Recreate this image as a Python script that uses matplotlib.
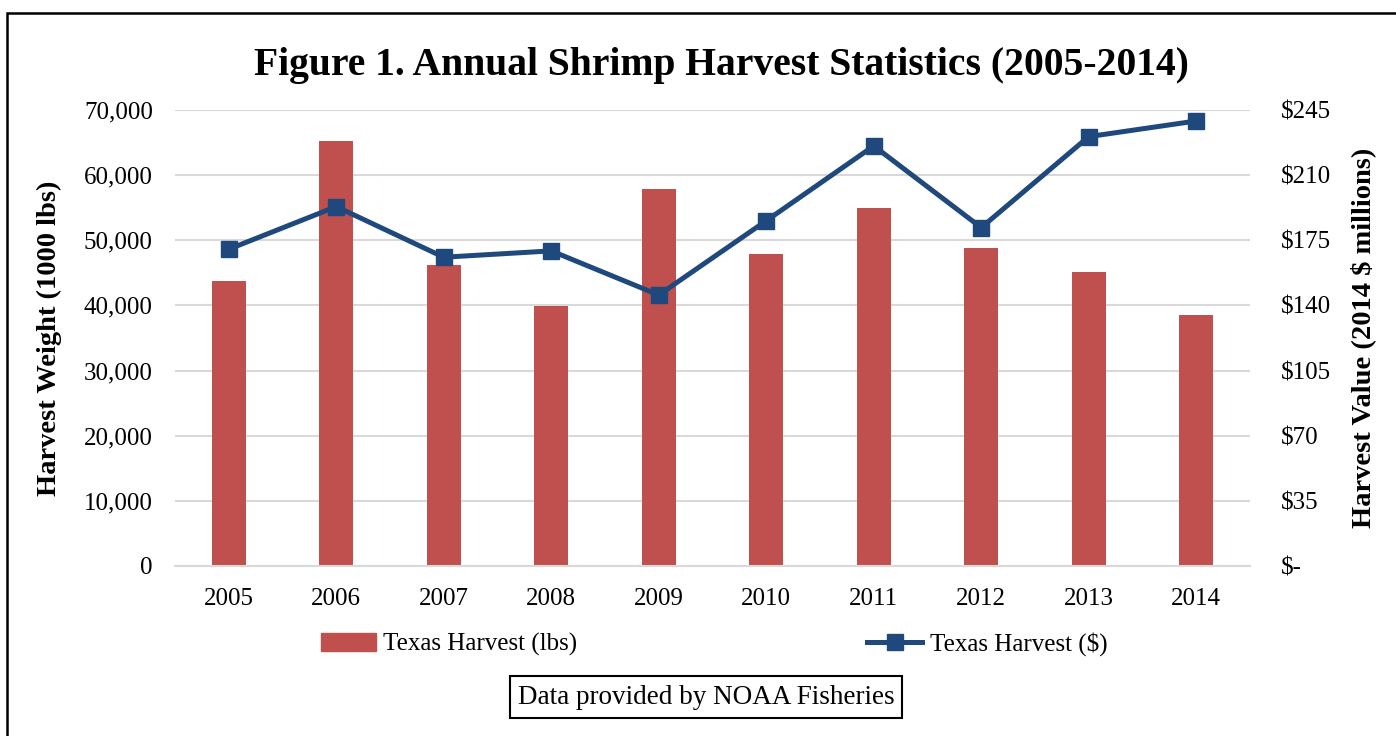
import numpy as np
import matplotlib.pyplot as plt
from matplotlib.patches import Rectangle
from matplotlib.lines import Line2D
from matplotlib.ticker import FuncFormatter

# data
years = ['2005', '2006', '2007', '2008', '2009', '2010', '2011', '2012', '2013', '2014']
harvest_lbs = [43700, 65200, 46150, 39850, 57850, 47900, 54900, 48850, 45150, 38600]  # 1000 lbs
harvest_usd = [170.2, 193.1, 165.9, 169.3, 145.6, 185.5, 225.7, 181.8, 230.7, 239.1]  # 2014 $ millions

red = '#C0504D'
blue = '#1F497D'
grid_gray = '#D9D9D9'

plt.rcParams['font.family'] = ['Liberation Serif', 'DejaVu Serif']

fig = plt.figure(figsize=(13.96, 7.36), dpi=100)
ax = fig.add_axes([175 / 1396, 1 - 566 / 736, 1075 / 1396, 456 / 736])
ax2 = ax.twinx()

x = np.arange(len(years))
ax.bar(x, harvest_lbs, width=0.32, color=red, edgecolor='none', zorder=2,
       label='Texas Harvest (lbs)')
ax2.plot(x, harvest_usd, color=blue, linewidth=3.6, marker='s', markersize=11,
         label='Texas Harvest ($)')

ax.set_xlim(-0.5, len(years) - 0.5)
ax.set_ylim(0, 70000)
ax.set_yticks(np.arange(0, 70001, 10000))
ax.yaxis.set_major_formatter(FuncFormatter(lambda v, p: f'{int(v):,}'))
ax2.set_ylim(0, 245)
ax2.set_yticks(np.arange(0, 246, 35))
ax2.yaxis.set_major_formatter(FuncFormatter(lambda v, p: '$-' if v == 0 else f'${int(v)}'))
ax.set_xticks(x)
ax.set_xticklabels(years)

ax.grid(axis='y', color=grid_gray, linewidth=1.5, zorder=0)
ax.set_axisbelow(True)
for a in (ax, ax2):
    for s in a.spines.values():
        s.set_visible(False)
ax.spines['bottom'].set_visible(True)
ax.spines['bottom'].set_color(grid_gray)
ax.spines['bottom'].set_linewidth(1.5)

ax.tick_params(axis='y', length=0, pad=16, labelsize=18)
ax.tick_params(axis='x', length=0, pad=16, labelsize=18)
ax2.tick_params(axis='y', length=0, pad=22, labelsize=18)
for lbl in ax2.get_yticklabels():
    lbl.set_horizontalalignment('left')

ax.set_ylabel('Harvest Weight (1000 lbs)', fontsize=20.5, fontweight='bold')
ax.yaxis.set_label_coords(-0.105, 0.5)
ax2.set_ylabel('Harvest Value (2014 $ millions)', fontsize=20.5, fontweight='bold',
               rotation=90)
ax2.yaxis.set_label_coords(1.093, 0.5)

fig.text(721 / 1396, 1 - 66 / 736, 'Figure 1. Annual Shrimp Harvest Statistics (2005-2014)',
         ha='center', va='center', fontsize=28.5, fontweight='bold')

handles = [Rectangle((0, 0), 1, 1, color=red),
           Line2D([], [], color=blue, linewidth=3.6, marker='s', markersize=11)]
fig.legend(handles, ['Texas Harvest (lbs)', 'Texas Harvest ($)'], ncol=2,
           loc='center', bbox_to_anchor=(714 / 1396, 1 - 644 / 736), frameon=False,
           fontsize=18, handlelength=2.2, handletextpad=0.3, columnspacing=11.6)

fig.text(706 / 1396, 1 - 697 / 736, 'Data provided by NOAA Fisheries', ha='center',
         va='center', fontsize=19.5,
         bbox=dict(boxstyle='square,pad=0.3', facecolor='white', edgecolor='black',
                   linewidth=1.5))

# outer border (runs off the right and bottom edges)
fig.add_artist(Rectangle((7 / 1396, -0.1), 1.2, 1 - 13 / 736 + 0.1, transform=fig.transFigure,
                         fill=False, edgecolor='black', linewidth=1.8))

fig.savefig('out.png', dpi=100)
